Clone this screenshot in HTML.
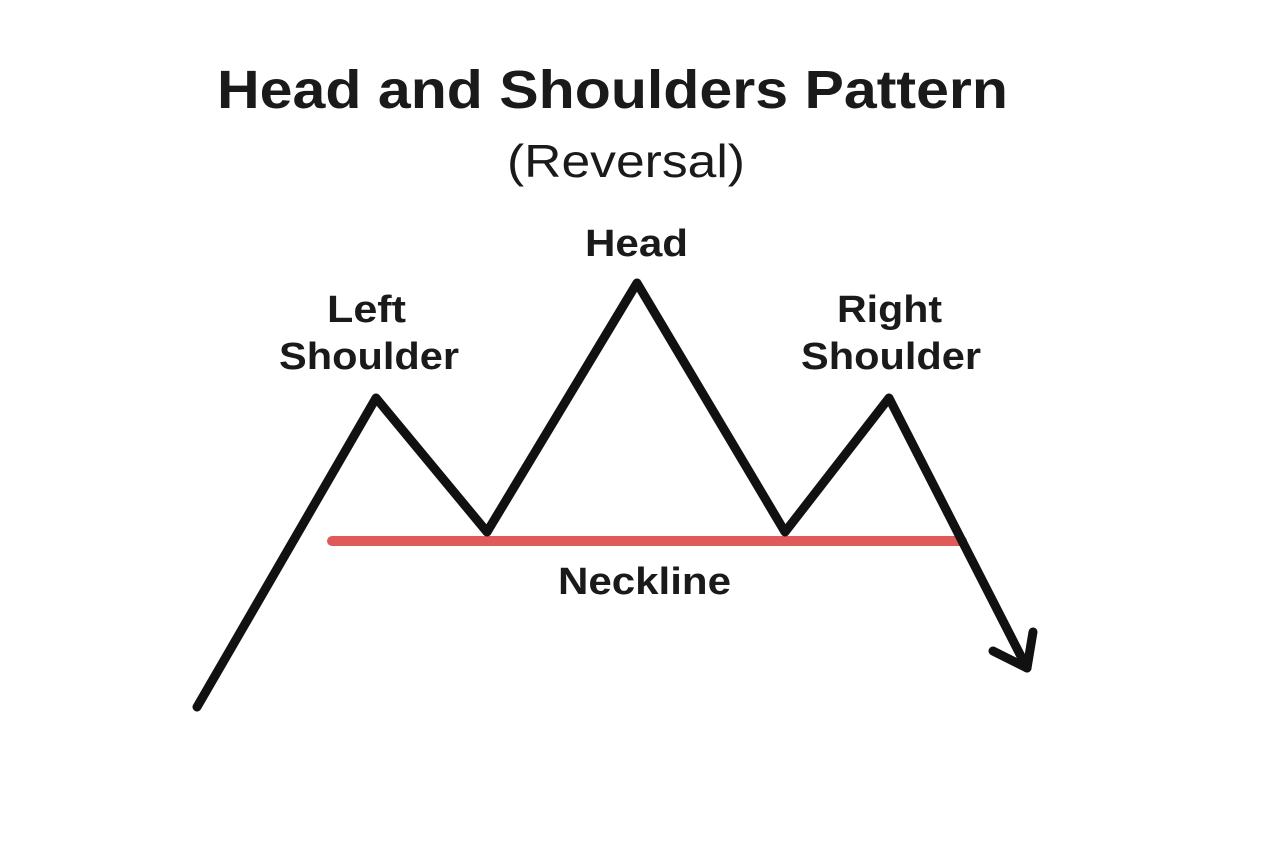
<!DOCTYPE html>
<html><head><meta charset="utf-8"><style>
html,body{margin:0;padding:0;background:#fff;}
svg{display:block}
text{font-family:"Liberation Sans",sans-serif;fill:#1a1a1a;}
</style></head><body>
<svg width="1280" height="853" viewBox="0 0 1280 853" xmlns="http://www.w3.org/2000/svg">
<rect width="1280" height="853" fill="#fff"/>
<text x="217" y="108" font-size="54" font-weight="bold" textLength="791" lengthAdjust="spacingAndGlyphs">Head and Shoulders Pattern</text>
<text x="507" y="177" font-size="46" textLength="238" lengthAdjust="spacingAndGlyphs">(Reversal)</text>
<text x="585" y="256" font-size="38" font-weight="bold" textLength="103" lengthAdjust="spacingAndGlyphs">Head</text>
<text x="327" y="322" font-size="38" font-weight="bold" textLength="79" lengthAdjust="spacingAndGlyphs">Left</text>
<text x="279" y="369" font-size="38" font-weight="bold" textLength="180" lengthAdjust="spacingAndGlyphs">Shoulder</text>
<text x="837" y="322" font-size="38" font-weight="bold" textLength="105" lengthAdjust="spacingAndGlyphs">Right</text>
<text x="801" y="369" font-size="38" font-weight="bold" textLength="180" lengthAdjust="spacingAndGlyphs">Shoulder</text>
<text x="558" y="594" font-size="38" font-weight="bold" textLength="173" lengthAdjust="spacingAndGlyphs">Neckline</text>
<line x1="332" y1="541" x2="962" y2="541" stroke="#e05a5a" stroke-width="10" stroke-linecap="round"/>
<polyline points="197,707 376,398 487,532 637,283 785,532 889,398 1027,668" fill="none" stroke="#111" stroke-width="9" stroke-linejoin="round" stroke-linecap="round"/>
<polyline points="993,651 1027,668 1033,632" fill="none" stroke="#111" stroke-width="9" stroke-linejoin="round" stroke-linecap="round"/>
</svg>
</body></html>
